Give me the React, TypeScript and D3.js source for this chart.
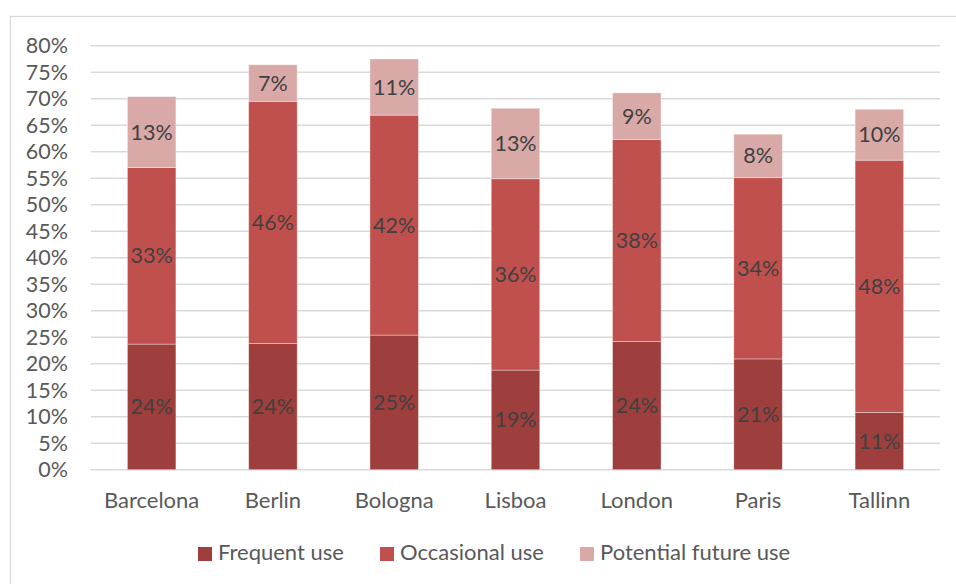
import React from "react";
import * as d3 from "d3";

const categories = ["Barcelona", "Berlin", "Bologna", "Lisboa", "London", "Paris", "Tallinn"];
const frequentUse = [23.7, 23.8, 25.4, 18.8, 24.2, 20.9, 10.8];
const occasionalUse = [33.3, 45.7, 41.5, 36.1, 38.1, 34.2, 47.6];
const potentialUse = [13.4, 6.9, 10.6, 13.3, 8.8, 8.2, 9.6];
const seriesNames = ["Frequent use", "Occasional use", "Potential future use"];
const seriesColors = ["#9e3f3d", "#c0504d", "#d9a9a8"];
const yTicks = d3.range(0, 81, 5);

const W = 956;
const H = 584;
const FONT = "Lato, 'Open Sans', sans-serif";

export default function App() {
  const x = d3.scaleBand<string>().domain(categories).range([91, 940]).paddingInner(0.6).paddingOuter(0.3);
  const y = d3.scaleLinear().domain([0, 80]).range([469.7, 45.7]);

  const rows = categories.map((c, i) => ({
    cat: c,
    s0: frequentUse[i],
    s1: occasionalUse[i],
    s2: potentialUse[i],
  }));
  const stack = d3.stack<any>().keys(["s0", "s1", "s2"]);
  const layers = stack(rows);

  const legendX = [198, 380, 580];

  return (
    <svg width={W} height={H} style={{ position: "absolute", left: 0, top: 0, background: "#fff" }}>
      <rect x={10.5} y={16.5} width={W + 20} height={H + 20} fill="#fff" stroke="#d9d9d9" strokeWidth={1.3} />
      {yTicks.map((t) => (
        <g key={t}>
          <line x1={91} x2={940} y1={y(t)} y2={y(t)} stroke="#d9d9d9" strokeWidth={1.4} />
          <text x={68} y={y(t)} dy="0.35em" textAnchor="end" fontFamily={FONT} fontSize={21.5} fill="#595959">
            {t}%
          </text>
        </g>
      ))}
      {layers.map((layer, li) => (
        <g key={li}>
          {layer.map((d, i) => {
            const x0 = x(categories[i])!;
            const top = y(d[1]);
            const bot = y(d[0]);
            return (
              <g key={i}>
                <rect
                  x={x0}
                  y={top}
                  width={x.bandwidth()}
                  height={bot - top}
                  fill={seriesColors[li]}
                  stroke="#ffffff"
                  strokeOpacity={0.45}
                  strokeWidth={0.8}
                />
                <text
                  x={x0 + x.bandwidth() / 2}
                  y={(top + bot) / 2}
                  dy="0.35em"
                  textAnchor="middle"
                  fontFamily={FONT}
                  fontSize={21.5}
                  fill="#404040"
                >
                  {Math.round(d[1] - d[0])}%
                </text>
              </g>
            );
          })}
        </g>
      ))}
      {categories.map((c) => (
        <text
          key={c}
          x={x(c)! + x.bandwidth() / 2}
          y={508}
          textAnchor="middle"
          fontFamily={FONT}
          fontSize={22}
          fill="#595959"
        >
          {c}
        </text>
      ))}
      {seriesNames.map((n, i) => (
        <g key={n}>
          <rect x={legendX[i]} y={547} width={14} height={14} fill={seriesColors[i]} />
          <text x={legendX[i] + 20} y={559.5} fontFamily={FONT} fontSize={22} fill="#595959">
            {n}
          </text>
        </g>
      ))}
    </svg>
  );
}
